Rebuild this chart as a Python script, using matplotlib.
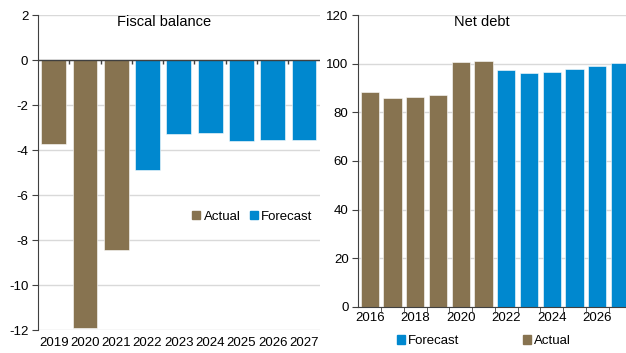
import matplotlib.pyplot as plt
from matplotlib.patches import Patch

plt.rcParams['font.family'] = ['Liberation Sans', 'DejaVu Sans']
plt.rcParams['axes.unicode_minus'] = False

BROWN = '#877350'
BLUE = '#0088cf'
GRID = '#d9d9d9'
SPINE = '#404040'

# fiscal balance, % of GDP
fb_years = ['2019', '2020', '2021', '2022', '2023', '2024', '2025', '2026', '2027']
fb_values = [-3.75, -11.9, -8.45, -4.9, -3.3, -3.25, -3.6, -3.55, -3.57]
fb_actual = [True, True, True, False, False, False, False, False, False]

# net debt, % of GDP
nd_years = list(range(2016, 2028))
nd_values = [88.2, 86.0, 86.3, 86.9, 100.8, 101.1, 97.5, 96.3, 96.4, 97.8, 99.0, 100.4]
nd_actual = [True] * 6 + [False] * 6

fig = plt.figure(figsize=(6.26, 3.53), dpi=100)

# --- left: fiscal balance ---
ax1 = fig.add_axes([0.0607, 0.065, 0.45, 0.8925])
x1 = list(range(len(fb_years)))
ax1.bar(x1, fb_values, width=0.79, color=[BROWN if a else BLUE for a in fb_actual],
        edgecolor='white', linewidth=0.4, zorder=2)
ax1.set_xlim(-0.5, len(fb_years) - 0.5)
ax1.set_ylim(-12, 2)
ax1.set_yticks(range(-12, 3, 2))
ax1.set_xticks(x1)
ax1.set_xticklabels(fb_years)
ax1.tick_params(axis='x', length=0, pad=5, labelsize=9.5)
ax1.tick_params(axis='y', length=4, color=SPINE, labelsize=9.5, pad=3)
ax1.grid(axis='y', color=GRID, lw=1, zorder=0)
for s in ['top', 'right', 'bottom']:
    ax1.spines[s].set_visible(False)
ax1.spines['left'].set_color(SPINE)
ax1.axhline(0, color=SPINE, lw=1, zorder=3)
ax1.vlines([i + 0.5 for i in x1[:-1]], -0.18, 0, color=SPINE, lw=1, zorder=3)
ax1.legend(handles=[Patch(color=BROWN, label='Actual'), Patch(color=BLUE, label='Forecast')],
           ncol=2, frameon=False, fontsize=9.5, handlelength=0.6, handleheight=0.6,
           handletextpad=0.25, columnspacing=0.7, loc='center',
           bbox_to_anchor=(0.761, 0.36), borderpad=0)
fig.text(164 / 626, 1 - 22 / 353, 'Fiscal balance', ha='center', va='center', fontsize=10.5)

# --- right: net debt ---
ax2 = fig.add_axes([0.5724, 0.131, 0.4276, 0.8265])
x2 = list(range(len(nd_years)))
ax2.bar(x2, nd_values, width=0.8, color=[BROWN if a else BLUE for a in nd_actual],
        edgecolor='white', linewidth=0.4, zorder=2)
ax2.set_xlim(-0.5, 11.26)
ax2.set_ylim(0, 120)
ax2.set_yticks(range(0, 121, 20))
ax2.set_xticks(x2[::2])
ax2.set_xticklabels([str(y) for y in nd_years[::2]])
ax2.set_xticks([i + 0.5 for i in x2[:-1]], minor=True)
ax2.tick_params(axis='x', which='major', length=0, pad=4, labelsize=9.5)
ax2.tick_params(axis='x', which='minor', length=4, color=SPINE)
ax2.tick_params(axis='y', length=4, color=SPINE, labelsize=9.5, pad=3)
ax2.grid(axis='y', color=GRID, lw=1, zorder=0)
for s in ['top', 'right']:
    ax2.spines[s].set_visible(False)
ax2.spines['left'].set_color(SPINE)
ax2.spines['bottom'].set_color(SPINE)
ax2.spines['bottom'].set_zorder(3)
fig.legend(handles=[Patch(color=BLUE, label='Forecast'), Patch(color=BROWN, label='Actual')],
           ncol=2, frameon=False, fontsize=9.5, handlelength=0.6, handleheight=0.6,
           handletextpad=0.25, columnspacing=4.85, loc='center',
           bbox_to_anchor=(484 / 626, 1 - 341 / 353), borderpad=0)
fig.text(482 / 626, 1 - 22 / 353, 'Net debt', ha='center', va='center', fontsize=10.5)

fig.savefig('out.png', dpi=100)
